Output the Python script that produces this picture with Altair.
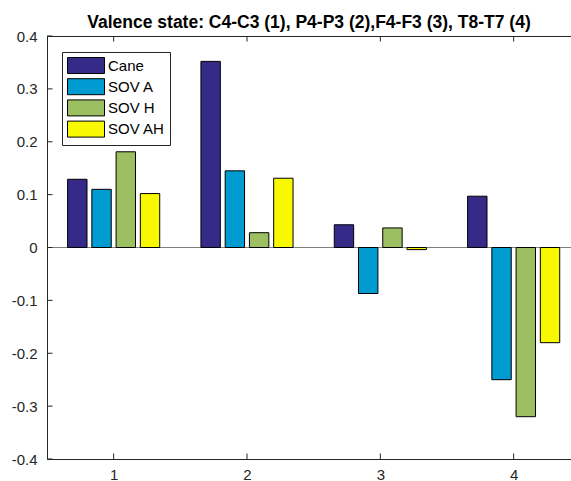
import altair as alt
import pandas as pd

# ---- data ----
groups = [1, 2, 3, 4]
series = ["Cane", "SOV A", "SOV H", "SOV AH"]
cane = [0.129, 0.352, 0.043, 0.097]
sov_a = [0.110, 0.145, -0.087, -0.250]
sov_h = [0.181, 0.028, 0.037, -0.320]
sov_ah = [0.102, 0.131, -0.004, -0.180]
colors = ["#352A87", "#009BD1", "#9BBF61", "#F8F800"]
x_ticks = [1, 2, 3, 4]
y_ticks = [-0.4, -0.3, -0.2, -0.1, 0, 0.1, 0.2, 0.3, 0.4]
title_text = "Valence state: C4-C3 (1), P4-P3 (2),F4-F3 (3), T8-T7 (4)"

rows = []
for si, (name, vals) in enumerate(zip(series, [cane, sov_a, sov_h, sov_ah])):
    for g, v in zip(groups, vals):
        rows.append({"group": g, "series": name, "idx": si, "value": v})
df = pd.DataFrame(rows)

W, H = 524, 423
n = len(series)
gw = min(0.8, n / (n + 1.5))
step = gw / n
bw = 0.8 * step

FONT = "Liberation Sans"
AX = "#262626"

xscale = alt.Scale(domain=[0.5, 4.43], nice=False, zero=False)
yscale = alt.Scale(domain=[-0.4, 0.4], nice=False, zero=False)

x_axis = alt.Axis(values=x_ticks, title=None, grid=False, ticks=False, tickSize=0,
                  domain=True, domainColor=AX, domainWidth=1,
                  labelFont=FONT, labelFontSize=15, labelColor=AX,
                  labelPadding=8, labelExpr="toString(datum.value)")
y_axis = alt.Axis(values=y_ticks, title=None, grid=False, ticks=False, tickSize=0,
                  domain=True, domainColor=AX, domainWidth=1,
                  labelFont=FONT, labelFontSize=15, labelColor=AX,
                  labelPadding=10, labelExpr="toString(datum.value)")

bars = alt.Chart(df).transform_calculate(
    xc=f"datum.group + (datum.idx - {(n - 1) / 2}) * {step}"
).transform_calculate(
    x0=f"datum.xc - {bw / 2}", x1=f"datum.xc + {bw / 2}"
).mark_bar(stroke="black", strokeWidth=1).encode(
    x=alt.X("x0:Q", scale=xscale, axis=x_axis),
    x2="x1:Q",
    y=alt.Y("value:Q", scale=yscale, axis=y_axis),
    y2=alt.datum(0),
    color=alt.Color("series:N", scale=alt.Scale(domain=series, range=colors),
                    legend=alt.Legend(title=None)),
)

zero_line = alt.Chart(pd.DataFrame({"z": [0]})).mark_rule(color="#7f7f7f", strokeWidth=1).encode(
    y=alt.Y("z:Q", scale=yscale, axis=y_axis),
    x=alt.value(0), x2=alt.value(W),
)

top_line = alt.Chart(pd.DataFrame({"z": [0]})).mark_rule(color=AX, strokeWidth=1).encode(
    x=alt.value(0), x2=alt.value(W), y=alt.value(0.5),
)

yt = pd.DataFrame({"v": y_ticks})
xt = pd.DataFrame({"v": x_ticks})
ytick_rules = alt.Chart(yt).mark_rule(color=AX, strokeWidth=1).encode(
    y=alt.Y("v:Q", scale=yscale, axis=y_axis), x=alt.value(0), x2=alt.value(5.5))
xtick_bottom = alt.Chart(xt).mark_rule(color=AX, strokeWidth=1).encode(
    x=alt.X("v:Q", scale=xscale, axis=x_axis), y=alt.value(H), y2=alt.value(H - 5.5))
xtick_top = alt.Chart(xt).mark_rule(color=AX, strokeWidth=1).encode(
    x=alt.X("v:Q", scale=xscale, axis=x_axis), y=alt.value(0), y2=alt.value(5.5))

chart = alt.layer(zero_line, bars, top_line, ytick_rules, xtick_bottom, xtick_top).properties(
    width=W, height=H,
    title=alt.TitleParams(title_text, font=FONT, fontSize=17.5, fontWeight="bold",
                          color="black", anchor="middle", baseline="alphabetic",
                          offset=8, dy=24),
    padding={"left": 47, "top": 36, "right": 0, "bottom": 22},
    autosize=alt.AutoSizeParams(type="none"),
    background="white",
).configure_view(stroke=None).configure_legend(
    orient="none", legendX=15, legendY=16, padding=5,
    strokeColor=AX, fillColor="white", strokeWidth=1, cornerRadius=0,
    symbolType="M-2.3125,-1H2.3125V1H-2.3125Z", symbolSize=256, symbolStrokeColor="black",
    symbolStrokeWidth=1, symbolOpacity=1, symbolOffset=10.5,
    labelFont=FONT, labelFontSize=15, labelColor="black", labelOffset=13.5, rowPadding=0.2,
)

chart.save("out.html", embed_options={"renderer": "svg", "actions": False})
